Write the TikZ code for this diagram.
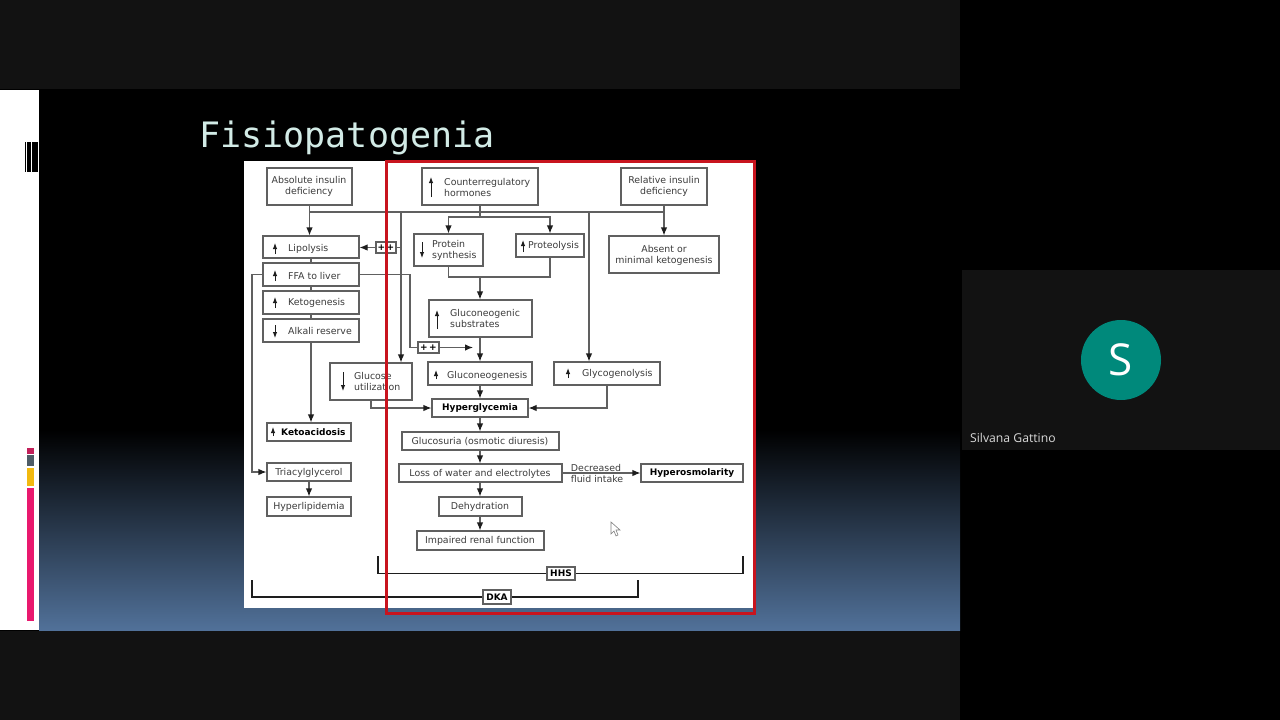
\documentclass[tikz,border=0pt]{standalone}
\usepackage{fontspec}
\setmainfont{DejaVu Sans}
\newfontfamily\titlefont{DejaVu Sans Mono}
\newfontfamily\namefont{Open Sans}
\usepackage{xcolor}
\definecolor{boxgray}{HTML}{606060}
\definecolor{textgray}{HTML}{3C3C3C}
\definecolor{tipdark}{HTML}{1E1E1E}
\definecolor{redframe}{HTML}{C8141E}
\definecolor{slideblue}{HTML}{517199}
\definecolor{titlepale}{HTML}{D2EBE6}
\definecolor{panelgray}{HTML}{121212}
\definecolor{avatargreen}{HTML}{00897B}
\definecolor{barpink}{HTML}{E9186E}
\definecolor{barcrimson}{HTML}{C2205A}
\definecolor{barslate}{HTML}{4E5C66}
\definecolor{baryellow}{HTML}{F2B90F}
\usetikzlibrary{arrows.meta, positioning, calc}
\tikzset{
    box/.style={draw=boxgray, line width=1.15pt, fill=white, inner sep=0pt},
    link/.style={draw=boxgray, line width=1.15pt},
    flow/.style={link, -{Latex[length=8pt, width=6.5pt, color=tipdark]}},
    minitip/.style={draw=tipdark, line width=1pt, -{Latex[length=6pt, width=4.5pt]}},
    bracket/.style={draw=tipdark, line width=1.5pt},
    label/.style={font=\fontsize{9.4}{11}\selectfont, text=textgray, inner sep=0pt, align=center},
    labelw/.style={label, anchor=west, align=left},
    strong/.style={font=\fontsize{9}{11}\selectfont\bfseries, text=black, inner sep=0pt}
}
\begin{document}
\begin{tikzpicture}[x=1pt, y=-1pt]
    \useasboundingbox (0,0) rectangle (1280,720);
    % Screen and slide
    \fill[black] (0,0) rectangle (1280,720);
    \fill[panelgray] (0,0) rectangle (960,89);
    \fill[panelgray] (0,631) rectangle (960,720);
    \fill[white] (0,90) rectangle (39,630);
    \fill[top color=black, bottom color=slideblue] (39,430) rectangle (960,630);
    \fill[panelgray] (962,270) rectangle (1280,450);
    \fill[white] (244,161) rectangle (753,608);
    % Side marks
    \foreach \xl/\xr in {24.5/26, 27/31, 32/38} {
        \fill[black] (\xl,142) rectangle (\xr,172);
    }
    \foreach \c/\yt/\yb in {barcrimson/448/454, barslate/455/466, baryellow/468/486, barpink/488/621} {
        \fill[\c] (27,\yt) rectangle (34,\yb);
    }
    % Title
    \node[font=\titlefont\fontsize{35}{40}\selectfont, text=titlepale, inner sep=0pt] (title) at (347,137.5) {Fisiopatogenia};
    % Boxes
    \foreach \n/\xl/\yt/\xr/\yb in {
        absolute/267/168/352/205, counter/422/168/538/205, relative/621/168/707/205,
        lipolysis/263/236/359/258, ffa/263/263/359/286, ketogen/263/291/359/314, alkali/263/319/359/342,
        protein/414/234/483/266, proteolysis/516/234/584/257, absent/609/236/719/273,
        gsubstrates/429/300/532/337, gneogenesis/428/362/532/385, glucose/330/363/412/400, glyco/554/362/660/385,
        hyper/432/399/528/417, ketoacid/267/423/351/441, glucosuria/402/432/559/450,
        loss/399/464/562/482, osmol/641/464/743/482, triacyl/267/463/351/481, hyperlip/267/497/351/516,
        dehyd/439/497/522/516, renal/417/531/544/550,
        pluslip/376/242/396/253, plusgluc/418/342/439/353, hhs/547/567/575/580, dka/483/590/511/604} {
        \node[box, minimum width={(\xr-\xl)*1pt}, minimum height={(\yb-\yt)*1pt}] (\n) at ({(\xl+\xr)/2},{(\yt+\yb)/2}) {};
    }
    % Free ends
    \coordinate (bus) at (309,212);
    \coordinate (fork) at (480,217);
    \coordinate (glucdrop) at (401,212);
    \coordinate (glycdrop) at (589,212);
    \coordinate (merge) at (480,277);
    \coordinate (ffaturn) at (410,347.5);
    \coordinate (plustip) at (473,347.5);
    \coordinate (ffadrop) at (252,400);
    \coordinate (hhsl) at (378,556);
    \coordinate (hhsr) at (743,556);
    \coordinate (dkal) at (252,580);
    \coordinate (dkar) at (638,580);
    % Connectors
    \draw[link] (absolute.south |- bus) -- (relative.south |- bus);
    \draw[link] (counter.south) -- (fork);
    \draw[flow] (fork) -| (protein.north);
    \draw[flow] (fork) -| (proteolysis.north);
    \draw[flow] (absolute.south) -- (absolute.south |- lipolysis.north);
    \draw[flow] (relative.south) -- (absent.north);
    \draw[flow] (glucdrop) -- (glucdrop |- glucose.north);
    \draw[flow] (glycdrop) -- (glycdrop |- glyco.north);
    \draw[link] (pluslip.east) -- (pluslip.east -| glucdrop);
    \draw[flow] (pluslip.west) -- (pluslip.west -| lipolysis.east);
    \foreach \a/\b in {lipolysis/ffa, ffa/ketogen, ketogen/alkali} {
        \draw[link] (\a.south) -- (\b.north);
    }
    \draw[flow] (alkali.south) -- (alkali.south |- ketoacid.north);
    \draw[flow] (triacyl.south) -- (hyperlip.north);
    \draw[flow] (ffa.west) -| (ffadrop) |- (triacyl.west);
    \draw[link] (ffa.east) -| (ffaturn) -- (plusgluc.west);
    \draw[flow] (plusgluc.east) -- (plustip);
    \draw[link] (protein.south) |- (merge);
    \draw[link] (proteolysis.south) |- (merge);
    \draw[flow] (merge) -- (gsubstrates.north -| merge);
    \foreach \a/\b in {gsubstrates/gneogenesis, gneogenesis/hyper, hyper/glucosuria, glucosuria/loss, loss/dehyd, dehyd/renal} {
        \draw[flow] (\a.south -| fork) -- (\b.north -| fork);
    }
    \draw[flow] (glucose.south) |- (hyper.west);
    \draw[flow] (glyco.south) |- (hyper.east);
    \draw[flow] (loss.east) -- (osmol.west);
    \draw[bracket] (hhsl) |- (hhs.west);
    \draw[bracket] (hhsr) |- (hhs.east);
    \draw[bracket] (dkal) |- (dka.west);
    \draw[bracket] (dkar) |- (dka.east);
    % Small arrows in the boxes, up and down
    \foreach \x/\ya/\yb in {431/197/177, 275/254/243, 275/281/270, 275/308/297, 275/325/338,
        422/242/258, 437/329/310, 343/372/391, 436/379/370, 523/252/240, 568/378/368, 273/436/427} {
        \draw[minitip] (\x,\ya) -- (\x,\yb);
    }
    % Centred labels
    \foreach \n/\x/\y/\s in {
        absolute/309/186.5/{Absolute insulin\\deficiency}, relative/664/186.5/{Relative insulin\\deficiency},
        absent/664/255/{Absent or\\minimal ketogenesis}, glucosuria/480/441.5/{Glucosuria (osmotic diuresis)},
        loss/480/473.5/{Loss of water and electrolytes}, dehyd/480/506.5/{Dehydration}, renal/480/540.5/{Impaired renal function},
        triacyl/309/472.5/{Triacylglycerol}, hyperlip/309/506.5/{Hyperlipidemia}, decreased/596/468/{Decreased}, intake/597/479/{fluid intake}} {
        \node[label] (\n-text) at (\x,\y) {\s};
    }
    % Labels beside the small arrows
    \foreach \n/\x/\y/\s in {
        counter/444/187.5/{Counterregulatory\\hormones}, lipolysis/288/249/{Lipolysis}, ffa/288/276/{FFA to liver},
        ketogen/288/302.5/{Ketogenesis}, alkali/288/330.5/{Alkali reserve}, protein/432/250.5/{Protein\\synthesis},
        proteolysis/528/245.5/{Proteolysis}, gsubstrates/450/318.5/{Gluconeogenic\\substrates}, glucose/354/381.5/{Glucose\\utilization},
        gneogenesis/447/375.5/{Gluconeogenesis}, glyco/582/373.5/{Glycogenolysis}} {
        \node[labelw] (\n-text) at (\x,\y) {\s};
    }
    % Bold labels
    \node[strong, anchor=west] (ketoacid-text) at (281,432) {Ketoacidosis};
    \foreach \n/\x/\y/\s in {hyper/480/408.5/Hyperglycemia, osmol/692/473.5/Hyperosmolarity, hhs/561/573.5/HHS, dka/497/597/DKA,
        pluslip/386/247.5/{+\,+}, plusgluc/428.5/347.5/{+\,+}} {
        \node[strong] (\n-text) at (\x,\y) {\s};
    }
    % Red frame on top of the figure
    \draw[redframe, line width=3pt] (386,161.5) rectangle (754,613);
    % Pointer
    \draw[fill=white, draw=gray, line width=0.6pt] (611,522) -- (611,534) -- (614,531) -- (616,536) -- (618,535) -- (616,530) -- (620,530) -- cycle;
    % Participant tile
    \node[circle, fill=avatargreen, minimum size=80pt, inner sep=0pt, text=white, font=\namefont\fontsize{44}{44}\selectfont] (avatar) at (1121,360) {S};
    \node[anchor=west, inner sep=0pt, text=white!85!black, font=\namefont\fontsize{12.2}{14}\selectfont] (speaker) at (970,438) {Silvana Gattino};
\end{tikzpicture}
\end{document}
